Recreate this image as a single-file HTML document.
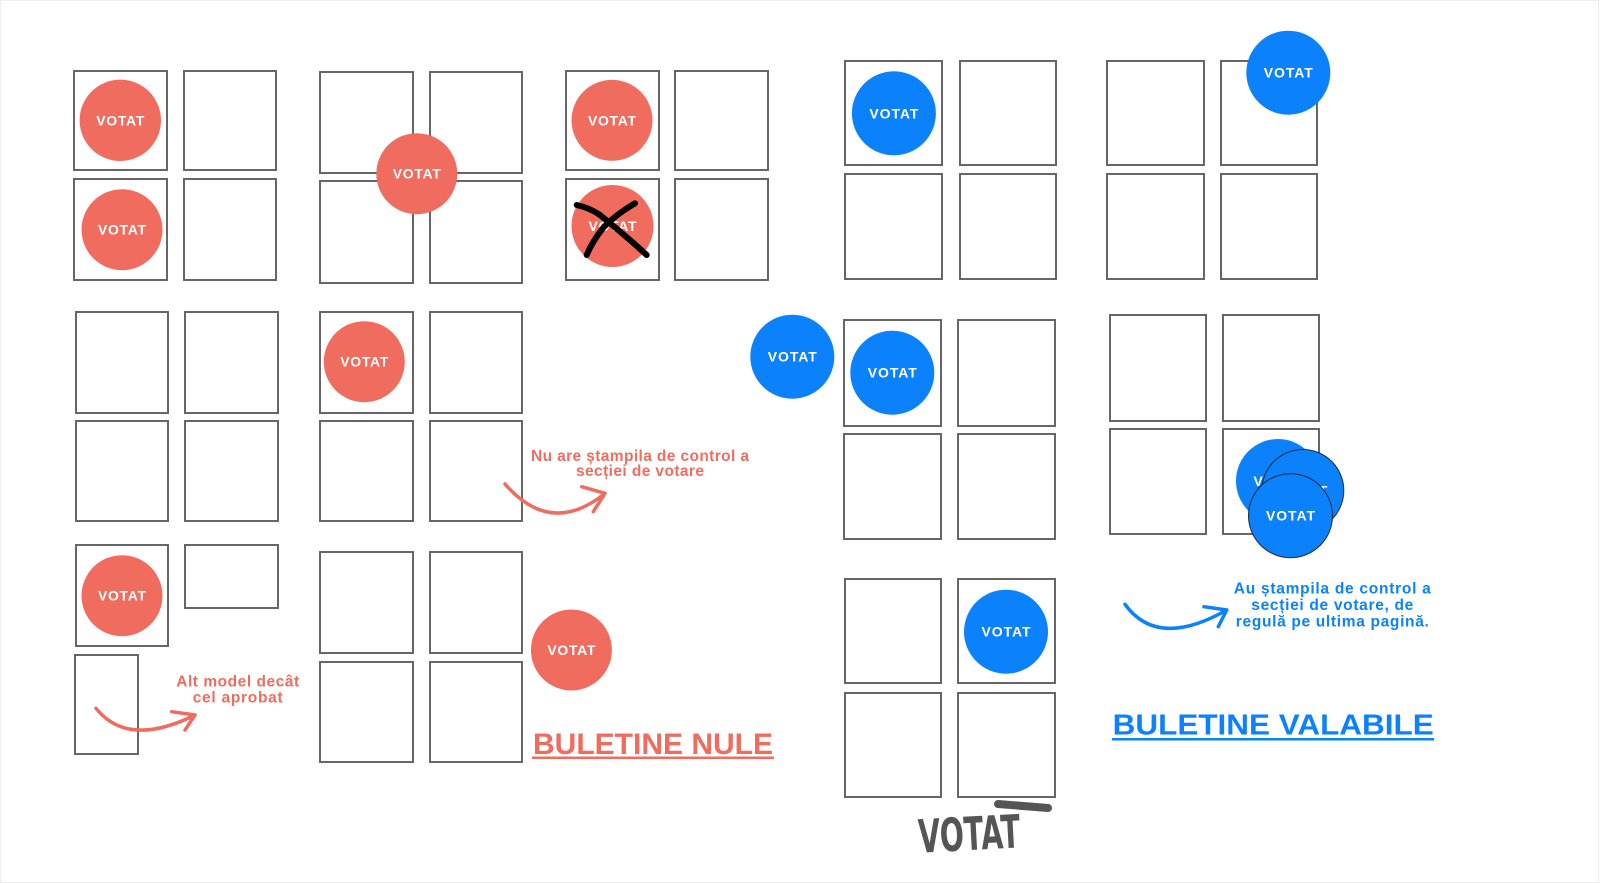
<!DOCTYPE html>
<html>
<head>
<meta charset="utf-8">
<style>
  html, body { margin: 0; padding: 0; background: #ffffff; }
  body { width: 1600px; height: 884px; overflow: hidden; }
  svg { display: block; }
  .box { fill: #ffffff; stroke: #666666; stroke-width: 2; }
  .red { fill: #f06c5e; }
  .blue { fill: #0b82fb; }
  .stamp { font-family: "Liberation Sans", "DejaVu Sans", sans-serif; font-weight: bold; font-size: 14px; fill: #ffffff; }
  .lbl { font-family: "Liberation Sans", "DejaVu Sans", sans-serif; font-weight: bold; font-size: 15.5px; }
  .title { font-family: "Liberation Sans", "DejaVu Sans", sans-serif; font-weight: bold; }
  .arrow { fill: none; stroke-width: 3.5; stroke-linecap: round; stroke-linejoin: round; }
</style>
</head>
<body>
<svg width="1600" height="884" viewBox="0 0 1600 884" xmlns="http://www.w3.org/2000/svg">
  <rect x="0.5" y="0.5" width="1598" height="882" fill="#ffffff" stroke="#eeeeee" stroke-width="1"/>

  <!-- Group A -->
  <rect class="box" x="74" y="71" width="93" height="99"/>
  <rect class="box" x="184" y="71" width="92" height="99"/>
  <rect class="box" x="74" y="179" width="93" height="101"/>
  <rect class="box" x="184" y="179" width="92" height="101"/>

  <!-- Group B -->
  <rect class="box" x="320" y="72" width="93" height="101"/>
  <rect class="box" x="430" y="72" width="92" height="101"/>
  <rect class="box" x="320" y="181" width="93" height="102"/>
  <rect class="box" x="430" y="181" width="92" height="102"/>

  <!-- Group C -->
  <rect class="box" x="566" y="71" width="93" height="99"/>
  <rect class="box" x="675" y="71" width="93" height="99"/>
  <rect class="box" x="566" y="179" width="93" height="101"/>
  <rect class="box" x="675" y="179" width="93" height="101"/>

  <!-- Group D -->
  <rect class="box" x="76" y="312" width="92" height="101"/>
  <rect class="box" x="185" y="312" width="93" height="101"/>
  <rect class="box" x="76" y="421" width="92" height="100"/>
  <rect class="box" x="185" y="421" width="93" height="100"/>

  <!-- Group E -->
  <rect class="box" x="320" y="312" width="93" height="101"/>
  <rect class="box" x="430" y="312" width="92" height="101"/>
  <rect class="box" x="320" y="421" width="93" height="100"/>
  <rect class="box" x="430" y="421" width="92" height="100"/>

  <!-- Group J -->
  <rect class="box" x="76" y="545" width="92" height="101"/>
  <rect class="box" x="185" y="545" width="93" height="63"/>
  <rect class="box" x="75" y="655" width="63" height="99"/>

  <!-- Group K -->
  <rect class="box" x="320" y="552" width="93" height="101"/>
  <rect class="box" x="430" y="552" width="92" height="101"/>
  <rect class="box" x="320" y="662" width="93" height="100"/>
  <rect class="box" x="430" y="662" width="92" height="100"/>

  <!-- Group F -->
  <rect class="box" x="845" y="61" width="97" height="104"/>
  <rect class="box" x="960" y="61" width="96" height="104"/>
  <rect class="box" x="845" y="174" width="97" height="105"/>
  <rect class="box" x="960" y="174" width="96" height="105"/>

  <!-- Group G -->
  <rect class="box" x="1107" y="61" width="97" height="104"/>
  <rect class="box" x="1221" y="61" width="96" height="104"/>
  <rect class="box" x="1107" y="174" width="97" height="105"/>
  <rect class="box" x="1221" y="174" width="96" height="105"/>

  <!-- Group H -->
  <rect class="box" x="844" y="320" width="97" height="106"/>
  <rect class="box" x="958" y="320" width="97" height="106"/>
  <rect class="box" x="844" y="434" width="97" height="105"/>
  <rect class="box" x="958" y="434" width="97" height="105"/>

  <!-- Group I -->
  <rect class="box" x="1110" y="315" width="96" height="106"/>
  <rect class="box" x="1223" y="315" width="96" height="106"/>
  <rect class="box" x="1110" y="429" width="96" height="105"/>
  <rect class="box" x="1223" y="429" width="96" height="105"/>

  <!-- Group L -->
  <rect class="box" x="845" y="579" width="96" height="104"/>
  <rect class="box" x="958" y="579" width="97" height="104"/>
  <rect class="box" x="845" y="693" width="96" height="104"/>
  <rect class="box" x="958" y="693" width="97" height="104"/>

  <!-- Red stamps -->
  <circle class="red" cx="120.3" cy="120.3" r="40.7"/>
  <text class="stamp" x="120.3" y="125.3" text-anchor="middle" textLength="48">VOTAT</text>
  <circle class="red" cx="122" cy="229.7" r="40.5"/>
  <text class="stamp" x="122" y="234.7" text-anchor="middle" textLength="48">VOTAT</text>
  <circle class="red" cx="416.8" cy="173.7" r="40.5"/>
  <text class="stamp" x="416.8" y="178.7" text-anchor="middle" textLength="48">VOTAT</text>
  <circle class="red" cx="612" cy="120.3" r="40.5"/>
  <text class="stamp" x="612" y="125.3" text-anchor="middle" textLength="48">VOTAT</text>
  <circle class="red" cx="612.5" cy="226" r="41"/>
  <text class="stamp" x="612.5" y="231" text-anchor="middle" textLength="48">VOTAT</text>
  <path d="M576.7,205 Q590,208 600,215 Q625,235 646.7,255" fill="none" stroke="#000" stroke-width="6" stroke-linecap="round"/>
  <path d="M635,203.3 Q615,215 603,228 Q592,242 586.7,255" fill="none" stroke="#000" stroke-width="6" stroke-linecap="round"/>
  <circle class="red" cx="364.3" cy="361.7" r="40.5"/>
  <text class="stamp" x="364.3" y="366.7" text-anchor="middle" textLength="48">VOTAT</text>
  <circle class="red" cx="122" cy="595.7" r="40.5"/>
  <text class="stamp" x="122" y="600.7" text-anchor="middle" textLength="48">VOTAT</text>
  <circle class="red" cx="571.4" cy="650" r="40.5"/>
  <text class="stamp" x="571.4" y="655" text-anchor="middle" textLength="48">VOTAT</text>

  <!-- Blue stamps -->
  <circle class="blue" cx="893.9" cy="113.3" r="42"/>
  <text class="stamp" x="893.9" y="118.3" text-anchor="middle" textLength="49">VOTAT</text>
  <circle class="blue" cx="1288.3" cy="72.7" r="42"/>
  <text class="stamp" x="1288.3" y="77.7" text-anchor="middle" textLength="49">VOTAT</text>
  <circle class="blue" cx="792.3" cy="356.7" r="42"/>
  <text class="stamp" x="792.3" y="361.7" text-anchor="middle" textLength="49">VOTAT</text>
  <circle class="blue" cx="892.3" cy="372.7" r="42"/>
  <text class="stamp" x="892.3" y="377.7" text-anchor="middle" textLength="49">VOTAT</text>
  <circle class="blue" cx="1006" cy="631.7" r="42"/>
  <text class="stamp" x="1006" y="636.7" text-anchor="middle" textLength="49">VOTAT</text>

  <!-- Overlapping stamps -->
  <circle class="blue" cx="1278" cy="481" r="42"/>
  <text class="stamp" x="1278" y="486" text-anchor="middle" textLength="49">VOTAT</text>
  <circle class="blue" cx="1302.8" cy="490.5" r="41" stroke="#1a2a44" stroke-width="1"/>
  <text class="stamp" x="1302.8" y="495.5" text-anchor="middle" textLength="49">VOTAT</text>
  <circle class="blue" cx="1290.5" cy="515.7" r="42" stroke="#1a2a44" stroke-width="1"/>
  <text class="stamp" x="1290.5" y="520.7" text-anchor="middle" textLength="49">VOTAT</text>

  <!-- Red labels and arrows -->
  <text class="lbl" fill="#f06c5e" x="640" y="461" text-anchor="middle" textLength="218">Nu are ștampila de control a</text>
  <text class="lbl" fill="#f06c5e" x="640" y="476" text-anchor="middle" textLength="128">secției de votare</text>
  <path class="arrow" stroke="#f06c5e" d="M505,484 Q551,537 605,493.3"/>
  <path class="arrow" stroke="#f06c5e" d="M581.7,486.7 L605,493.3 L593.3,511.7"/>

  <text class="lbl" fill="#f06c5e" x="237.7" y="686.7" text-anchor="middle" textLength="123">Alt model decât</text>
  <text class="lbl" fill="#f06c5e" x="237.7" y="702.5" text-anchor="middle" textLength="90">cel aprobat</text>
  <path class="arrow" stroke="#f06c5e" d="M96,708.3 Q128,748.3 195,715"/>
  <path class="arrow" stroke="#f06c5e" d="M171.7,711.7 L195,715 L185,730"/>

  <text class="title" fill="#f06c5e" font-size="30" x="533" y="754" textLength="240" lengthAdjust="spacingAndGlyphs">BULETINE NULE</text>
  <rect x="532" y="756.5" width="242" height="2.5" fill="#f06c5e"/>

  <!-- Blue labels and arrows -->
  <text class="lbl" fill="#0b82fb" x="1332.3" y="593.3" text-anchor="middle" textLength="197">Au ștampila de control a</text>
  <text class="lbl" fill="#0b82fb" x="1332.3" y="610" text-anchor="middle" textLength="162">secției de votare, de</text>
  <text class="lbl" fill="#0b82fb" x="1332.3" y="626.7" text-anchor="middle" textLength="193">regulă pe ultima pagină.</text>
  <path class="arrow" stroke="#0b82fb" d="M1125,604.3 Q1157.5,649.4 1226.7,610"/>
  <path class="arrow" stroke="#0b82fb" d="M1204,606.7 L1226.7,610 L1218.3,626.7"/>

  <text class="title" fill="#0b82fb" font-size="29" x="1112.7" y="734.3" textLength="321" lengthAdjust="spacingAndGlyphs">BULETINE VALABILE</text>
  <rect x="1112" y="738" width="322" height="2.5" fill="#0b82fb"/>

  <!-- Handwritten VOTAT -->
  <g transform="rotate(-3 970 830)">
    <text x="918" y="850" font-family="DejaVu Sans, Liberation Sans, sans-serif" font-weight="bold" font-size="46" fill="#555555" textLength="102" lengthAdjust="spacingAndGlyphs">VOTAT</text>
  </g>
  <path d="M998,804 L1048,808" stroke="#555555" stroke-width="8" stroke-linecap="round" fill="none"/>
</svg>
</body>
</html>
